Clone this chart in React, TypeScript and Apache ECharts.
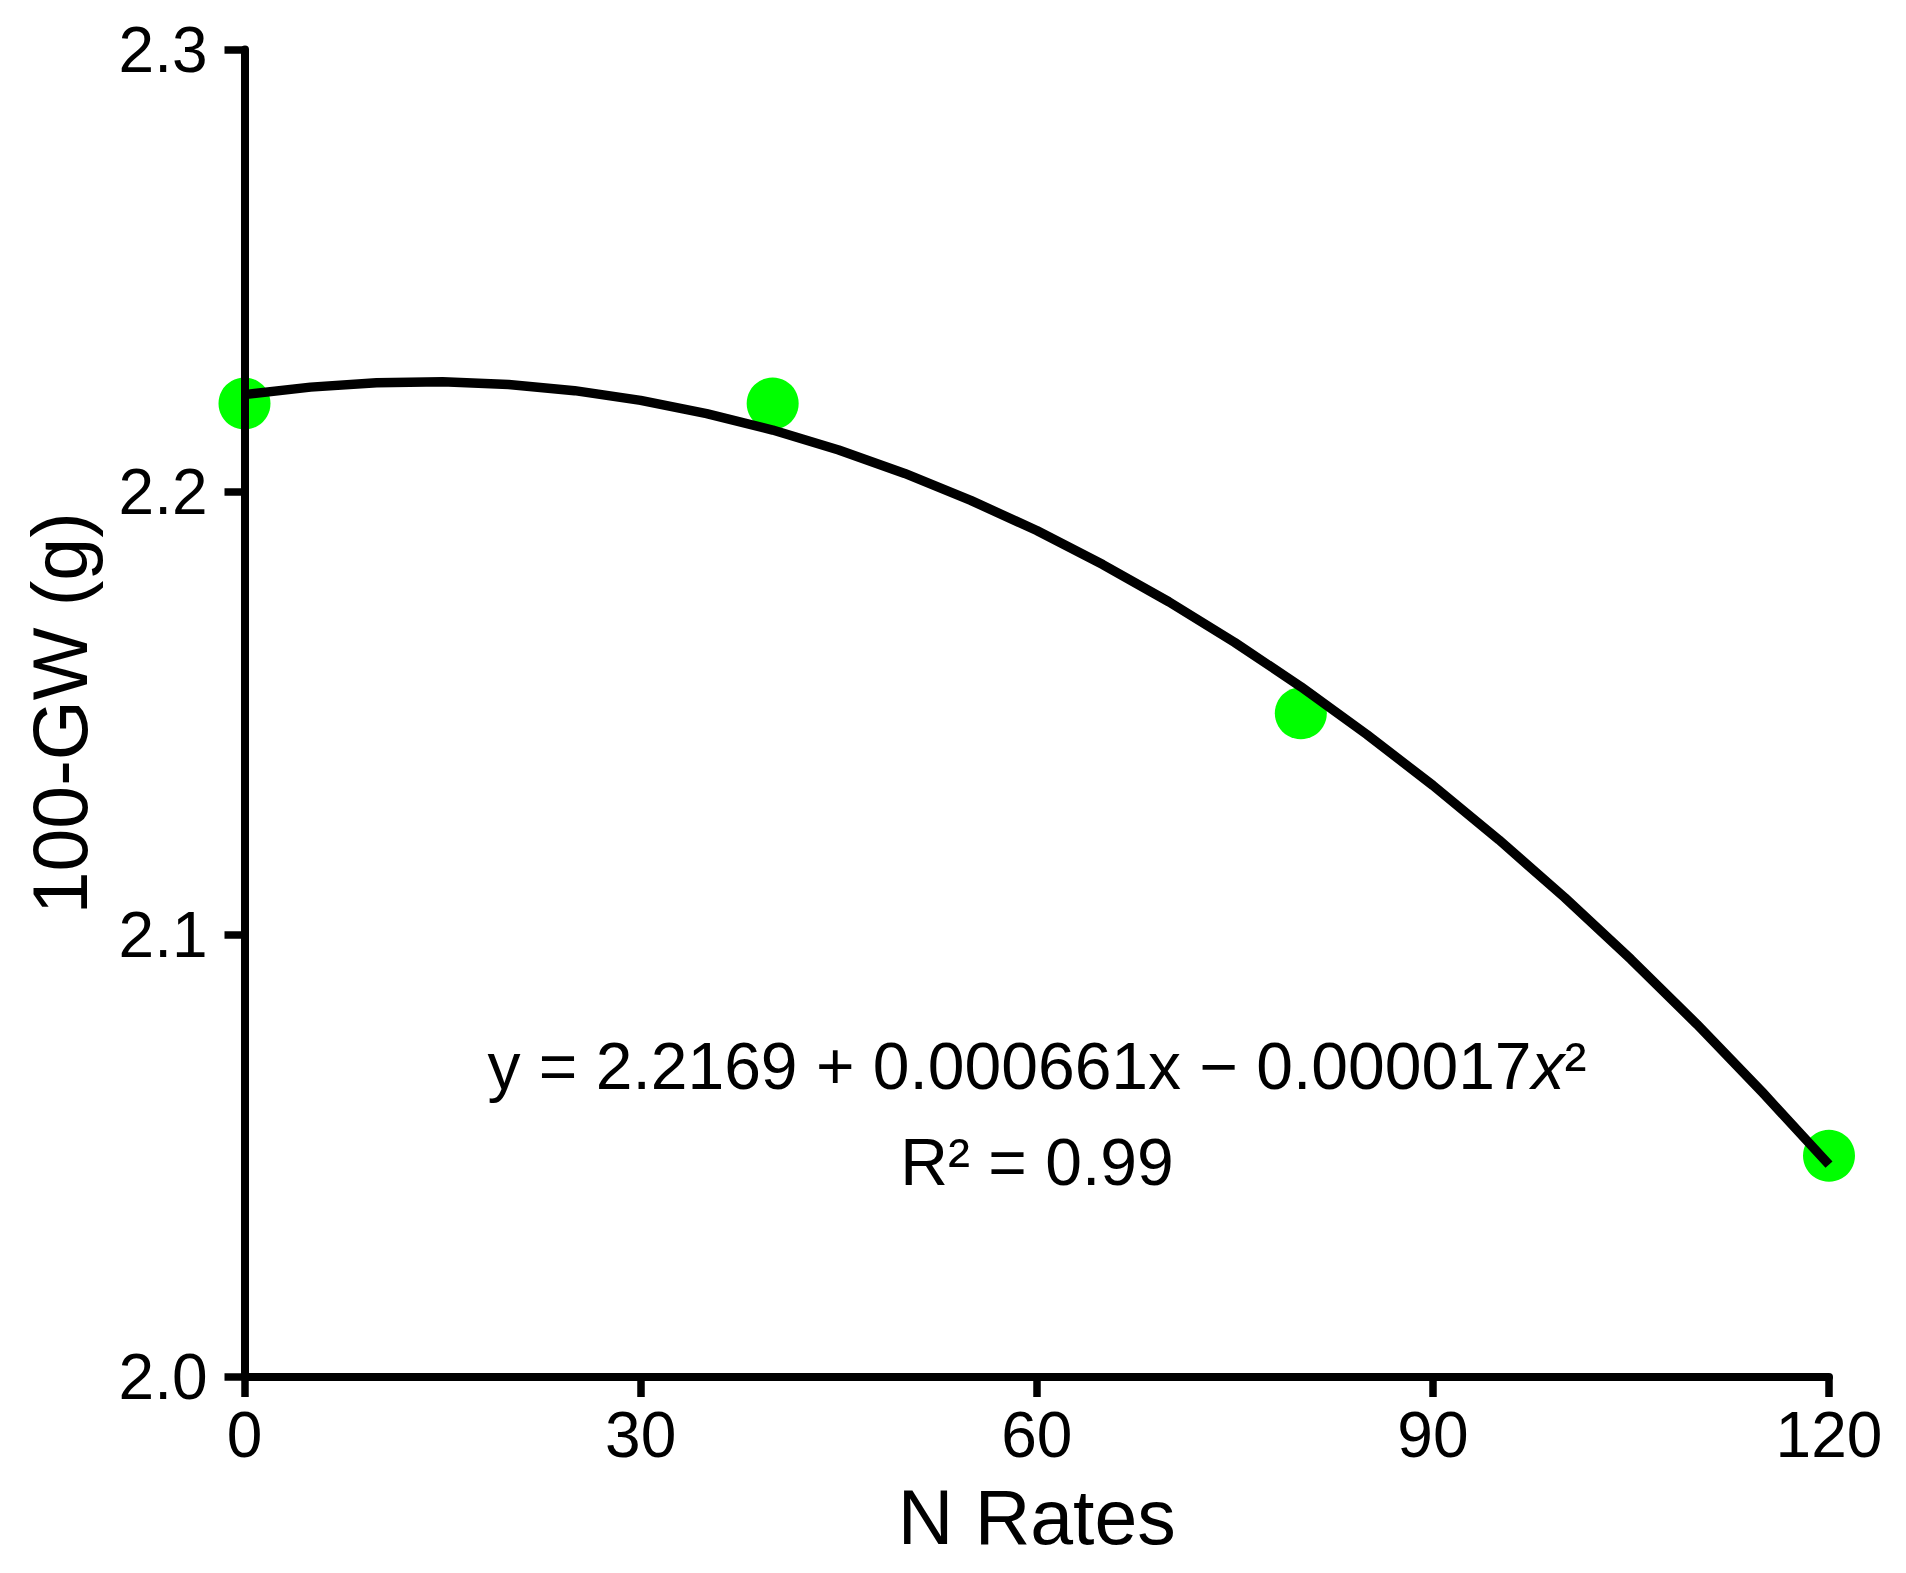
import React, { useEffect, useRef } from "react";
import * as echarts from "echarts";

// Observed data points (N rate, 100-grain weight)
const nRates = [0, 40, 80, 120];
const gwValues = [2.22, 2.22, 2.15, 2.05];

// Fitted curve
const curveX = [0, 5, 10, 15, 20, 25, 30, 35, 40, 45, 50, 55, 60, 65, 70, 75, 80, 85, 90, 95, 100, 105, 110, 115, 120];
const curveY = [
  2.222, 2.2237, 2.2247, 2.2249, 2.2243, 2.2229, 2.2207, 2.2177, 2.214, 2.2095, 2.2042, 2.1981, 2.1913,
  2.1836, 2.1752, 2.166, 2.156, 2.1452, 2.1337, 2.1214, 2.1083, 2.0944, 2.0797, 2.0642, 2.048,
];

const xTicks = [0, 30, 60, 90, 120];
const yTicks = ["2.0", "2.1", "2.2", "2.3"];

const equationText = "y = 2.2169 + 0.000661x − 0.000017";
const r2Text = "R² = 0.99";

const FONT = "'Liberation Sans', Arial, sans-serif";

export default function App() {
  const ref = useRef<HTMLDivElement>(null);
  useEffect(() => {
    document.body.style.margin = "0";
    if (!ref.current) return;
    const chart = echarts.init(ref.current, null, { renderer: "svg" });
    const axisCommon = {
      z: 5,
      axisLine: { show: true, lineStyle: { color: "#000", width: 8 } },
      axisTick: { show: true, length: 20, lineStyle: { color: "#000", width: 7.5 } },
      splitLine: { show: false },
      nameTextStyle: { fontSize: 77, color: "#000", fontFamily: FONT },
    };
    chart.setOption({
      animation: false,
      backgroundColor: "#fff",
      grid: { left: 244.5, right: 77, top: 49.5, bottom: 196 },
      xAxis: {
        ...axisCommon,
        type: "value",
        min: xTicks[0],
        max: xTicks[xTicks.length - 1],
        interval: 30,
        name: "N Rates",
        nameLocation: "middle",
        nameGap: 101,
        axisLabel: { fontSize: 64, color: "#000", fontFamily: FONT, margin: 26 },
      },
      yAxis: {
        ...axisCommon,
        type: "value",
        min: 2.0,
        max: 2.3,
        interval: 0.1,
        name: "100-GW (g)",
        nameLocation: "middle",
        nameGap: 146,
        axisLabel: {
          fontSize: 64,
          color: "#000",
          fontFamily: FONT,
          margin: 37,
          formatter: (v: number) => {
            const s = v.toFixed(1);
            return yTicks.includes(s) ? s : "";
          },
        },
      },
      series: [
        {
          type: "scatter",
          data: nRates.map((x, i) => [x, gwValues[i]]),
          symbol: "circle",
          symbolSize: 52,
          itemStyle: { color: "#00ff00", opacity: 1 },
          clip: false,
          z: 2,
        },
        {
          type: "line",
          data: curveX.map((x, i) => [x, curveY[i]]),
          showSymbol: false,
          symbol: "none",
          smooth: false,
          lineStyle: { color: "#000", width: 9.5, cap: "butt", join: "round" },
          clip: false,
          z: 3,
        },
      ],
      graphic: [
        {
          type: "text",
          x: 1037,
          y: 1066,
          z: 10,
          style: {
            text: "{a|" + equationText + "}{i|x}{a|²}",
            align: "center",
            verticalAlign: "middle",
            rich: {
              a: { fontSize: 66, fontFamily: FONT, fill: "#000" },
              i: { fontSize: 66, fontFamily: FONT, fill: "#000", fontStyle: "italic" },
            },
          },
        },
        {
          type: "text",
          x: 1037,
          y: 1162,
          z: 10,
          style: {
            text: r2Text,
            align: "center",
            verticalAlign: "middle",
            fontSize: 66,
            fontFamily: FONT,
            fill: "#000",
          },
        },
      ],
    });
    return () => chart.dispose();
  }, []);
  return <div ref={ref} style={{ width: 1906, height: 1573 }} />;
}
